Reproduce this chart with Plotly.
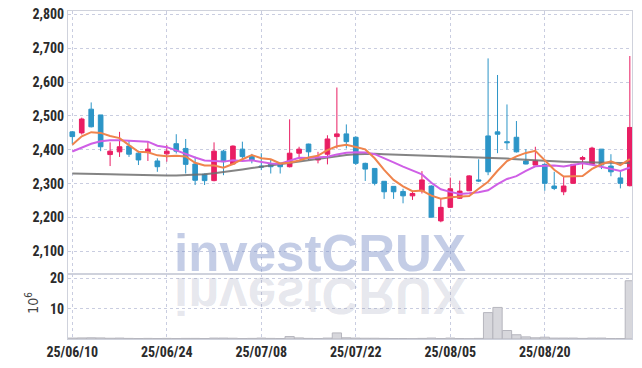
import plotly.graph_objects as go

# ---------------- data ----------------
dates = [
    "25/06/10", "25/06/11", "25/06/12", "25/06/13", "25/06/16", "25/06/17", "25/06/18", "25/06/19",
    "25/06/20", "25/06/23", "25/06/24", "25/06/25", "25/06/26", "25/06/27", "25/06/30",
    "25/07/01", "25/07/02", "25/07/03", "25/07/04", "25/07/07", "25/07/08", "25/07/09", "25/07/10",
    "25/07/11", "25/07/14", "25/07/15", "25/07/16", "25/07/17", "25/07/18", "25/07/21", "25/07/22",
    "25/07/23", "25/07/24", "25/07/25", "25/07/28", "25/07/29", "25/07/30", "25/07/31",
    "25/08/01", "25/08/04", "25/08/05", "25/08/06", "25/08/07", "25/08/08", "25/08/11", "25/08/12",
    "25/08/13", "25/08/14", "25/08/18", "25/08/19", "25/08/20", "25/08/21", "25/08/22", "25/08/25",
    "25/08/26", "25/08/27", "25/08/28", "25/08/29", "25/09/01", "25/09/02",
]

opens = [2453, 2450, 2520, 2503, 2386, 2394, 2411, 2390, 2392, 2367,
         2388, 2418, 2404, 2358, 2328, 2309, 2396, 2358, 2402, 2380,
         2352, 2357, 2360, 2350, 2390, 2417, 2370, 2387, 2439, 2447,
         2437, 2360, 2345, 2307, 2292, 2277, 2264, 2279, 2293, 2190,
         2230, 2257, 2279, 2311, 2441, 2453, 2424, 2437, 2367, 2355,
         2357, 2293, 2276, 2301, 2372, 2357, 2402, 2352, 2317, 2294]
highs = [2455, 2495, 2540, 2503, 2422, 2453, 2427, 2397, 2426, 2375,
         2414, 2446, 2432, 2380, 2330, 2422, 2400, 2413, 2424, 2388,
         2390, 2372, 2362, 2490, 2409, 2418, 2394, 2443, 2584, 2475,
         2440, 2362, 2345, 2307, 2292, 2285, 2279, 2337, 2295, 2257,
         2318, 2309, 2325, 2372, 2670, 2621, 2534, 2485, 2402, 2409,
         2360, 2335, 2320, 2358, 2382, 2409, 2402, 2387, 2338, 2677]
lows = [2417, 2445, 2466, 2396, 2352, 2379, 2379, 2355, 2367, 2335,
        2365, 2389, 2330, 2296, 2296, 2307, 2325, 2355, 2365, 2360,
        2340, 2330, 2330, 2348, 2378, 2370, 2360, 2357, 2404, 2404,
        2355, 2308, 2295, 2255, 2255, 2242, 2252, 2271, 2200, 2186,
        2228, 2255, 2278, 2305, 2325, 2390, 2401, 2392, 2357, 2355,
        2279, 2281, 2266, 2300, 2343, 2355, 2343, 2322, 2286, 2292]
closes = [2439, 2491, 2468, 2409, 2396, 2409, 2387, 2370, 2402, 2350,
          2396, 2396, 2357, 2310, 2309, 2396, 2365, 2411, 2380, 2370,
          2349, 2350, 2350, 2390, 2402, 2394, 2378, 2432, 2447, 2424,
          2360, 2343, 2301, 2276, 2276, 2264, 2271, 2311, 2201, 2230,
          2285, 2278, 2323, 2308, 2335, 2446, 2421, 2394, 2358, 2367,
          2301, 2286, 2293, 2357, 2377, 2405, 2355, 2335, 2301, 2466]

# volume in millions of shares
volume_m = [0.3, 0.35, 0.4, 0.35, 0.25, 0.3, 0.2, 0.15, 0.2, 0.15,
            0.2, 0.15, 0.2, 0.2, 0.15, 0.3, 0.3, 0.25, 0.15, 0.2,
            0.3, 0.2, 0.15, 0.8, 0.35, 0.2, 0.15, 0.3, 2.0, 0.4,
            0.3, 0.25, 0.25, 0.2, 0.15, 0.15, 0.1, 0.2, 0.3, 0.15,
            0.3, 0.15, 0.1, 0.2, 8.7, 10.4, 2.8, 1.4, 0.7, 0.4,
            0.6, 0.3, 0.3, 0.3, 0.2, 0.3, 0.3, 0.15, 0.15, 19.2]

ma5 = [2415, 2440, 2452, 2450, 2440.6, 2434.6, 2413.8, 2394.2, 2392.8, 2383.6,
       2381, 2382.8, 2380.2, 2361.8, 2353.6, 2353.6, 2347.4, 2358.2, 2372.2, 2384.4,
       2375, 2372, 2359.8, 2361.8, 2368.2, 2377.2, 2382.8, 2399.2, 2410.6, 2415,
       2408.2, 2401.2, 2375, 2340.8, 2311.2, 2292, 2277.6, 2279.6, 2264.6, 2255.4,
       2259.6, 2261, 2263.4, 2284.8, 2305.8, 2338, 2366.6, 2380.8, 2390.8, 2397.2,
       2368.2, 2341.2, 2321, 2320.8, 2322.8, 2343.6, 2357.4, 2365.8, 2354.6, 2372.4]
ma10 = [2395, 2407, 2418, 2425, 2428, 2428, 2427, 2426, 2424, 2412.1,
        2407.8, 2398.3, 2387.2, 2377.3, 2368.6, 2367.3, 2365.1, 2369.2, 2367, 2369,
        2364.3, 2359.7, 2359, 2367, 2376.3, 2376.1, 2377.4, 2379.5, 2386.2, 2391.6,
        2392.7, 2392, 2387.1, 2375.7, 2363.1, 2350.1, 2339.4, 2327.3, 2302.7, 2283.3,
        2275.8, 2269.3, 2271.5, 2274.7, 2280.6, 2298.8, 2313.8, 2322.1, 2337.8, 2351.5,
        2353.1, 2353.9, 2350.9, 2355.8, 2360, 2355.9, 2349.3, 2343.4, 2337.7, 2347.6]
ma_long = [2330, 2330, 2329, 2329, 2328, 2327, 2326, 2325, 2324, 2324,
           2324, 2324, 2325, 2326, 2328, 2331, 2334, 2338, 2342, 2346,
           2350, 2354, 2358, 2362, 2366, 2370, 2374, 2378, 2382, 2385,
           2387, 2388, 2388, 2387, 2386, 2386, 2385, 2385, 2384, 2383,
           2382, 2381, 2380, 2378, 2376, 2375, 2374, 2372, 2370, 2368,
           2367, 2366, 2365, 2364, 2364, 2363, 2362, 2362, 2361, 2361]

price_ticks = [2100, 2200, 2300, 2400, 2500, 2600, 2700, 2800]
volume_ticks = [10, 20]
date_ticks = ["25/06/10", "25/06/24", "25/07/08", "25/07/22", "25/08/05", "25/08/20"]

# ---------------- style ----------------
RED = "#e91e63"
BLUE = "#2c95c7"
GRID = "#c9cde0"
FRAME = "#cfd2dc"
TICKFONT = dict(family="Liberation Sans Narrow, Roboto Condensed, DejaVu Sans Condensed, Arial Narrow, sans-serif",
                size=14, color="#2b2b2b", weight="bold")

fig = go.Figure()

fig.add_trace(go.Scatter(x=dates, y=ma_long, mode="lines", xaxis="x", yaxis="y",
                         line=dict(color="rgba(110,110,110,0.85)", width=2), hoverinfo="skip"))
fig.add_trace(go.Scatter(x=dates, y=ma10, mode="lines", xaxis="x", yaxis="y",
                         line=dict(color="#cf5fe6", width=2), hoverinfo="skip"))
fig.add_trace(go.Scatter(x=dates, y=ma5, mode="lines", xaxis="x", yaxis="y",
                         line=dict(color="#ef844c", width=2), hoverinfo="skip"))
fig.add_trace(go.Candlestick(
    x=dates, open=opens, high=highs, low=lows, close=closes, xaxis="x", yaxis="y",
    increasing=dict(line=dict(color=RED, width=1), fillcolor=RED),
    decreasing=dict(line=dict(color=BLUE, width=1), fillcolor=BLUE),
    whiskerwidth=0,
))
fig.add_trace(go.Bar(x=dates, y=volume_m, xaxis="x2", yaxis="y2", width=0.98,
                     marker=dict(color="#d7d7dc", line=dict(color="#b6b6be", width=1))))

xcommon = dict(type="category", range=[-0.455, 59.23], tickvals=date_ticks, ticktext=date_ticks,
               showgrid=True, gridcolor=GRID, griddash="dot", gridwidth=1,
               showline=True, mirror=True, linecolor=FRAME, linewidth=1,
               zeroline=False, ticks="", automargin=False)

fig.update_layout(
    width=642, height=368,
    margin=dict(l=68, r=10, t=11, b=29, autoexpand=False),
    paper_bgcolor="white", plot_bgcolor="white",
    showlegend=False,
    xaxis=dict(**xcommon, anchor="y", domain=[0, 1], showticklabels=False,
               rangeslider=dict(visible=False)),
    xaxis2=dict(**xcommon, anchor="y2", domain=[0, 1], showticklabels=True, tickfont=TICKFONT),
    yaxis=dict(domain=[0.198, 1], range=[2033, 2810], tickvals=price_ticks, tickformat=",",
               showgrid=True, gridcolor=GRID, griddash="dot", showline=True, mirror=True,
               linecolor=FRAME, zeroline=False, tickfont=TICKFONT, ticks="", automargin=False),
    yaxis2=dict(domain=[0, 0.198], range=[0, 21.4], tickvals=volume_ticks,
                showgrid=True, gridcolor=GRID, griddash="dot", showline=True, mirror=True,
                linecolor=FRAME, zeroline=False, tickfont=TICKFONT, ticks="", automargin=False),
    annotations=[
        dict(text="<b>investCRUX</b>", xref="paper", yref="paper", x=0.447, y=0.262,
             xanchor="center", yanchor="middle", showarrow=False,
             font=dict(family="Liberation Sans, Arial, sans-serif", size=51,
                       color="rgba(115,135,195,0.42)")),
        dict(text="<b>investCRUX</b>", xref="paper", yref="paper", x=0.447, y=0.132,
             xanchor="center", yanchor="middle", showarrow=False,
             font=dict(family="Liberation Sans, Arial, sans-serif", size=51,
                       color="rgba(130,135,165,0.2)")),
        dict(text="10<sup>6</sup>", xref="paper", yref="paper", x=-0.064, y=0.11,
             xanchor="center", yanchor="middle", showarrow=False, textangle=-90,
             font=dict(family="Liberation Sans Narrow, DejaVu Sans Condensed, sans-serif", size=14,
                       color="#444")),
    ],
)

post = """
document.body.style.margin = '0';
document.body.style.padding = '0';
var gd = document.getElementById('{plot_id}');
function flipWm(){
  var t = gd.querySelector('g.annotation[data-index="1"] text');
  if (t) { t.style.transformBox = 'fill-box'; t.style.transformOrigin = '50% 50%'; t.style.transform = 'scaleY(-1)'; }
}
flipWm();
if (gd.on) { gd.on('plotly_afterplot', flipWm); }
"""

fig.write_html("out.html", post_script=post, config={"displayModeBar": False})
